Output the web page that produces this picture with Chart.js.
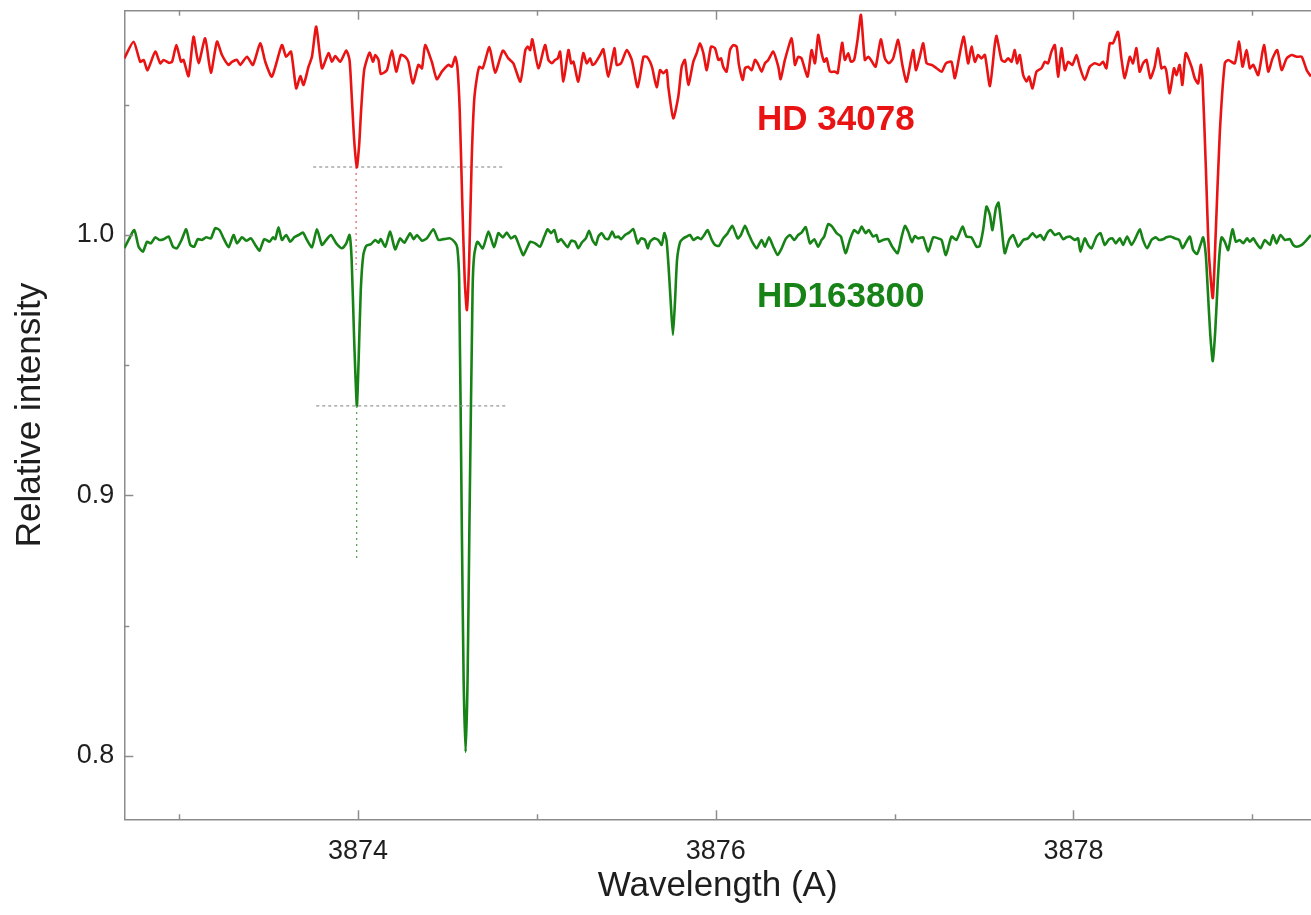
<!DOCTYPE html>
<html>
<head>
<meta charset="utf-8">
<script src="https://cdn.jsdelivr.net/npm/chart.js@4.4.1/dist/chart.umd.min.js"></script>
<style>
html,body{margin:0;padding:0;background:#ffffff;}
#wrap{width:1311px;height:915px;position:relative;}
canvas{display:block;}
</style>
</head>
<body>
<div id="wrap"><canvas id="c" width="1311" height="915"></canvas></div>
<script>
// ---------------- data ----------------
const redWave = [3872.694,3872.746,3872.783,3872.802,3872.824,3872.867,3872.895,3872.914,3872.942,3872.961,
3872.985,3873.011,3873.025,3873.053,3873.081,3873.109,3873.146,3873.178,3873.212,3873.240,
3873.277,3873.296,3873.324,3873.342,3873.380,3873.413,3873.454,3873.482,3873.519,3873.575,
3873.599,3873.626,3873.655,3873.678,3873.696,3873.724,3873.743,3873.767,3873.799,3873.836,
3873.855,3873.873,3873.901,3873.935,3873.953,3873.965,3873.979,3873.994,3874.007,3874.018,
3874.035,3874.065,3874.084,3874.097,3874.115,3874.128,3874.162,3874.190,3874.214,3874.240,
3874.264,3874.282,3874.307,3874.338,3874.358,3874.376,3874.413,3874.441,3874.469,3874.506,
3874.525,3874.544,3874.556,3874.569,3874.583,3874.597,3874.609,3874.622,3874.636,3874.650,
3874.666,3874.679,3874.698,3874.735,3874.767,3874.810,3874.841,3874.869,3874.908,3874.936,
3874.950,3874.963,3874.975,3875.009,3875.046,3875.065,3875.084,3875.102,3875.117,3875.130,
3875.149,3875.177,3875.192,3875.205,3875.232,3875.260,3875.279,3875.298,3875.311,3875.326,
3875.354,3875.372,3875.400,3875.434,3875.447,3875.471,3875.503,3875.531,3875.564,3875.596,
3875.615,3875.633,3875.646,3875.670,3875.689,3875.707,3875.726,3875.735,3875.763,3875.791,
3875.810,3875.828,3875.847,3875.875,3875.894,3875.912,3875.931,3875.950,3875.974,3875.996,
3876.015,3876.030,3876.042,3876.061,3876.080,3876.098,3876.117,3876.130,3876.151,3876.164,
3876.182,3876.201,3876.220,3876.235,3876.257,3876.275,3876.294,3876.322,3876.350,3876.363,
3876.387,3876.425,3876.443,3876.461,3876.480,3876.489,3876.514,3876.536,3876.555,3876.573,
3876.592,3876.607,3876.620,3876.639,3876.667,3876.682,3876.707,3876.722,3876.741,3876.756,
3876.774,3876.793,3876.812,3876.834,3876.853,3876.868,3876.894,3876.923,3876.946,3876.968,
3876.992,3877.020,3877.042,3877.067,3877.104,3877.119,3877.141,3877.160,3877.179,3877.207,
3877.235,3877.263,3877.287,3877.318,3877.337,3877.365,3877.387,3877.411,3877.430,3877.449,
3877.467,3877.486,3877.505,3877.533,3877.560,3877.570,3877.598,3877.616,3877.635,3877.654,
3877.672,3877.685,3877.700,3877.719,3877.738,3877.752,3877.771,3877.793,3877.821,3877.840,
3877.858,3877.877,3877.896,3877.914,3877.933,3877.952,3877.970,3877.994,3878.017,3878.035,
3878.063,3878.091,3878.119,3878.147,3878.165,3878.184,3878.203,3878.221,3878.249,3878.268,
3878.287,3878.315,3878.333,3878.352,3878.370,3878.389,3878.408,3878.430,3878.454,3878.473,
3878.492,3878.510,3878.520,3878.538,3878.562,3878.576,3878.594,3878.609,3878.628,3878.660,
3878.678,3878.697,3878.712,3878.721,3878.740,3878.757,3878.779,3878.796,3878.818,3878.846,
3878.865,3878.902,3878.926,3878.945,3878.968,3878.986,3879.005,3879.033,3879.065,3879.089,
3879.113,3879.139,3879.164,3879.192,3879.220,3879.248,3879.276,3879.304,3879.328];

const redFlux = [1.0678,1.0742,1.0665,1.0672,1.0633,1.0704,1.0659,1.0672,1.0661,1.0665,
1.0729,1.0665,1.0672,1.0610,1.0761,1.0659,1.0755,1.0623,1.0742,1.0691,
1.0653,1.0665,1.0672,1.0653,1.0684,1.0653,1.0736,1.0665,1.0608,1.0729,
1.0684,1.0704,1.0563,1.0610,1.0576,1.0646,1.0684,1.0800,1.0640,1.0698,
1.0665,1.0687,1.0665,1.0708,1.0672,1.0537,1.0365,1.0260,1.0346,1.0480,
1.0633,1.0700,1.0665,1.0691,1.0672,1.0618,1.0633,1.0708,1.0627,1.0691,
1.0684,1.0665,1.0582,1.0653,1.0640,1.0729,1.0665,1.0598,1.0627,1.0653,
1.0646,1.0684,1.0646,1.0480,1.0134,0.9827,0.9712,0.9904,1.0288,1.0518,
1.0608,1.0646,1.0640,1.0721,1.0623,1.0708,1.0678,1.0659,1.0589,1.0710,
1.0723,1.0710,1.0751,1.0640,1.0729,1.0672,1.0659,1.0672,1.0678,1.0704,
1.0589,1.0710,1.0659,1.0665,1.0589,1.0698,1.0659,1.0678,1.0653,1.0659,
1.0691,1.0713,1.0608,1.0717,1.0653,1.0659,1.0710,1.0672,1.0567,1.0684,
1.0684,1.0665,1.0640,1.0567,1.0633,1.0621,1.0633,1.0569,1.0448,1.0531,
1.0646,1.0672,1.0576,1.0665,1.0698,1.0736,1.0698,1.0633,1.0723,1.0717,
1.0672,1.0678,1.0646,1.0627,1.0710,1.0729,1.0723,1.0653,1.0595,1.0640,
1.0646,1.0633,1.0672,1.0659,1.0627,1.0659,1.0672,1.0704,1.0646,1.0598,
1.0672,1.0755,1.0653,1.0684,1.0678,1.0659,1.0608,1.0710,1.0659,1.0768,
1.0698,1.0665,1.0678,1.0627,1.0627,1.0621,1.0738,1.0672,1.0698,1.0665,
1.0672,1.0749,1.0845,1.0672,1.0684,1.0672,1.0646,1.0751,1.0678,1.0659,
1.0678,1.0749,1.0659,1.0589,1.0710,1.0633,1.0684,1.0736,1.0659,1.0653,
1.0640,1.0627,1.0659,1.0665,1.0602,1.0698,1.0761,1.0659,1.0723,1.0665,
1.0691,1.0678,1.0691,1.0572,1.0729,1.0764,1.0672,1.0665,1.0678,1.0665,
1.0710,1.0659,1.0691,1.0614,1.0589,1.0608,1.0563,1.0627,1.0640,1.0665,
1.0659,1.0704,1.0729,1.0608,1.0717,1.0633,1.0665,1.0653,1.0691,1.0646,
1.0595,1.0646,1.0659,1.0653,1.0665,1.0640,1.0736,1.0736,1.0780,1.0678,
1.0602,1.0684,1.0659,1.0717,1.0627,1.0659,1.0672,1.0602,1.0646,1.0717,
1.0640,1.0646,1.0627,1.0544,1.0640,1.0614,1.0653,1.0576,1.0698,1.0646,
1.0602,1.0582,1.0653,1.0608,1.0262,0.9931,0.9758,1.0019,1.0390,1.0659,
1.0672,1.0659,1.0742,1.0646,1.0710,1.0640,1.0653,1.0614,1.0729,1.0627,
1.0678,1.0710,1.0633,1.0678,1.0691,1.0684,1.0684,1.0633,1.0608];

const greenWave = [3872.694,3872.718,3872.750,3872.774,3872.798,3872.821,3872.843,3872.867,3872.891,3872.914,
3872.942,3872.966,3872.988,3873.016,3873.040,3873.063,3873.085,3873.104,3873.128,3873.152,
3873.178,3873.202,3873.226,3873.249,3873.277,3873.305,3873.324,3873.352,3873.376,3873.402,
3873.426,3873.450,3873.476,3873.506,3873.525,3873.538,3873.556,3873.575,3873.599,3873.622,
3873.644,3873.668,3873.693,3873.715,3873.743,3873.771,3873.799,3873.823,3873.849,3873.879,
3873.911,3873.935,3873.953,3873.965,3873.979,3873.994,3874.004,3874.016,3874.030,3874.046,
3874.073,3874.097,3874.115,3874.128,3874.153,3874.180,3874.208,3874.236,3874.259,3874.292,
3874.311,3874.330,3874.358,3874.385,3874.422,3874.450,3874.478,3874.516,3874.544,3874.556,
3874.566,3874.581,3874.591,3874.602,3874.613,3874.623,3874.641,3874.650,3874.668,3874.698,
3874.730,3874.761,3874.785,3874.810,3874.832,3874.855,3874.879,3874.907,3874.925,3874.963,
3874.991,3875.018,3875.042,3875.061,3875.080,3875.098,3875.117,3875.136,3875.154,3875.173,
3875.192,3875.214,3875.232,3875.251,3875.274,3875.292,3875.311,3875.330,3875.344,3875.363,
3875.382,3875.400,3875.422,3875.437,3875.456,3875.471,3875.493,3875.516,3875.540,3875.564,
3875.583,3875.605,3875.620,3875.633,3875.657,3875.679,3875.698,3875.713,3875.725,3875.736,
3875.748,3875.761,3875.773,3875.784,3875.801,3875.819,3875.838,3875.857,3875.875,3875.899,
3875.918,3875.936,3875.955,3875.978,3875.996,3876.018,3876.042,3876.067,3876.093,3876.123,
3876.141,3876.164,3876.182,3876.204,3876.229,3876.257,3876.275,3876.298,3876.322,3876.346,
3876.369,3876.391,3876.415,3876.439,3876.461,3876.480,3876.503,3876.527,3876.551,3876.573,
3876.592,3876.607,3876.629,3876.651,3876.676,3876.700,3876.726,3876.750,3876.774,3876.797,
3876.816,3876.838,3876.856,3876.880,3876.899,3876.912,3876.936,3876.964,3876.987,3877.017,
3877.039,3877.058,3877.076,3877.097,3877.113,3877.132,3877.160,3877.188,3877.216,3877.244,
3877.263,3877.287,3877.318,3877.346,3877.380,3877.402,3877.430,3877.458,3877.476,3877.495,
3877.514,3877.533,3877.547,3877.566,3877.581,3877.598,3877.616,3877.640,3877.663,3877.691,
3877.719,3877.746,3877.771,3877.793,3877.816,3877.834,3877.853,3877.872,3877.896,3877.920,
3877.942,3877.961,3877.980,3878.008,3878.026,3878.039,3878.063,3878.082,3878.101,3878.129,
3878.151,3878.175,3878.199,3878.218,3878.237,3878.259,3878.278,3878.300,3878.325,3878.349,
3878.371,3878.389,3878.412,3878.436,3878.460,3878.479,3878.501,3878.520,3878.543,3878.567,
3878.591,3878.610,3878.628,3878.651,3878.669,3878.691,3878.710,3878.725,3878.740,3878.751,
3878.765,3878.779,3878.793,3878.807,3878.818,3878.828,3878.846,3878.865,3878.889,3878.908,
3878.930,3878.949,3878.971,3878.986,3879.005,3879.023,3879.046,3879.070,3879.098,3879.116,
3879.135,3879.158,3879.182,3879.210,3879.228,3879.247,3879.276,3879.304,3879.328];

const greenFlux = [0.9949,0.9981,1.0019,0.9955,0.9936,0.9974,0.9968,0.9991,0.9981,0.9984,
0.9994,0.9955,0.9949,0.9984,1.0022,0.9962,0.9955,0.9984,0.9981,0.9991,
0.9987,1.0026,1.0019,0.9987,0.9953,1.0000,0.9968,0.9991,0.9978,0.9987,
0.9962,0.9940,0.9984,0.9974,0.9991,0.9984,1.0030,0.9981,1.0000,0.9974,
0.9991,1.0000,1.0009,0.9981,0.9953,1.0022,0.9962,0.9981,1.0000,0.9968,
0.9949,0.9968,1.0000,0.9904,0.9597,0.9344,0.9520,0.9789,0.9923,0.9958,
0.9965,0.9981,0.9970,0.9984,0.9955,1.0013,0.9945,0.9987,0.9970,1.0007,
0.9984,1.0000,0.9978,0.9987,1.0022,0.9981,0.9984,0.9987,0.9970,0.9949,
0.9827,0.8868,0.8292,0.8016,0.8292,0.8868,0.9789,0.9923,0.9974,0.9949,
1.0013,0.9953,1.0007,0.9991,1.0009,0.9987,0.9996,0.9949,0.9923,0.9974,
0.9968,0.9955,0.9994,1.0022,1.0007,1.0019,0.9974,0.9984,0.9968,0.9953,
0.9978,0.9974,0.9949,0.9970,0.9987,1.0016,0.9981,0.9962,0.9994,1.0007,
0.9987,0.9984,1.0013,0.9991,0.9994,0.9984,1.0000,1.0009,1.0022,0.9968,
0.9987,0.9981,0.9949,0.9974,0.9987,0.9981,0.9962,1.0007,0.9981,0.9885,
0.9750,0.9616,0.9750,0.9904,0.9973,0.9987,0.9994,1.0000,0.9981,0.9991,
0.9984,1.0000,1.0019,0.9981,0.9962,0.9958,0.9987,1.0007,1.0035,0.9987,
1.0000,1.0035,1.0007,0.9974,0.9949,0.9981,0.9955,0.9991,0.9955,0.9923,
0.9949,0.9984,1.0000,0.9981,1.0000,1.0009,1.0030,0.9968,0.9984,0.9955,
0.9981,0.9994,1.0042,1.0032,1.0007,0.9994,0.9930,0.9981,1.0019,1.0007,
1.0032,1.0007,1.0019,0.9994,1.0000,0.9974,0.9981,0.9984,0.9955,0.9930,
0.9991,1.0035,1.0013,0.9973,0.9996,0.9987,0.9991,0.9936,0.9991,0.9987,
0.9981,0.9923,0.9994,0.9981,1.0032,0.9994,0.9991,0.9955,0.9958,1.0019,
1.0109,1.0077,1.0019,1.0102,1.0124,1.0032,0.9930,0.9981,1.0000,0.9955,
0.9981,0.9987,1.0007,0.9991,1.0000,0.9981,1.0007,1.0019,1.0000,1.0007,
0.9984,0.9991,0.9994,0.9981,0.9987,0.9936,0.9987,0.9962,0.9949,0.9994,
1.0007,0.9962,0.9984,0.9987,0.9968,0.9987,0.9962,0.9994,0.9962,0.9991,
1.0022,0.9981,0.9949,0.9981,0.9991,0.9981,0.9984,0.9991,0.9994,0.9987,
0.9981,0.9949,0.9970,0.9994,0.9942,0.9927,0.9962,0.9991,0.9923,0.9789,
0.9616,0.9516,0.9635,0.9827,0.9942,0.9991,0.9974,0.9942,1.0022,0.9974,
0.9981,0.9968,0.9987,0.9974,0.9987,0.9968,0.9949,0.9981,0.9962,1.0000,
0.9968,1.0000,0.9981,0.9984,0.9962,0.9955,0.9962,0.9981,1.0000];

// reference (guide) lines at the 3874 line minima
const guideRedWave   = [3873.750, 3874.810];
const guideRedLevel  = [1.0261, 1.0261];
const guideGreenWave = [3873.767, 3874.832];
const guideGreenLevel= [0.9344, 0.9344];
const dropRedWave    = [3873.990, 3873.990];
const dropRedLevel   = [1.0261, 0.9866];
const dropGreenWave  = [3873.993, 3873.993];
const dropGreenLevel = [0.9344, 0.8760];

// axis ticks
const xTickValues = [3873, 3874, 3875, 3876, 3877, 3878, 3879];
const xTickLabels = ['', '3874', '', '3876', '', '3878', ''];
const yTickValues = [0.80, 0.85, 0.90, 0.95, 1.00, 1.05];
const yTickLabels = ['0.8', '', '0.9', '', '1.0', ''];

// series names
const seriesNames = ['HD 34078', 'HD163800'];
const nameWave  = [3876.231, 3876.231];
const nameLevel = [1.0441, 0.9762];

// ---------------- chart ----------------
const RED = '#ea1313';
const GREEN = '#178317';
const AXIS = '#8c8c8c';
const FONT = '"Liberation Sans", Arial, sans-serif';

const pts = (xs, ys) => xs.map((x, i) => ({x: x, y: ys[i]}));

const tickMarks = {
  id: 'tickMarks',
  afterDatasetsDraw(chart) {
    const {ctx, chartArea: a, scales} = chart;
    const xs = scales.x, ys = scales.y;
    ctx.save();
    ctx.strokeStyle = AXIS;
    ctx.lineWidth = 1.5;
    const seg = (x1, y1, x2, y2) => { ctx.beginPath(); ctx.moveTo(x1, y1); ctx.lineTo(x2, y2); ctx.stroke(); };
    seg(a.left, a.top, a.right + 2, a.top);
    xTickValues.forEach((v, i) => {
      const px = Math.round(xs.getPixelForValue(v)) + 0.5;
      const len = xTickLabels[i] ? 9 : 5;
      seg(px, a.bottom, px, a.bottom - len);
      seg(px, a.top, px, a.top + len);
    });
    yTickValues.forEach((v, i) => {
      const py = Math.round(ys.getPixelForValue(v)) + 0.5;
      const len = yTickLabels[i] ? 9 : 5;
      seg(a.left, py, a.left + len, py);
    });
    ctx.restore();
  },
  afterDraw(chart) {
    const {ctx, scales} = chart;
    ctx.save();
    ctx.font = 'bold 35px ' + FONT;
    ctx.textAlign = 'left';
    ctx.textBaseline = 'middle';
    const cols = [RED, GREEN];
    seriesNames.forEach((n, i) => {
      ctx.fillStyle = cols[i];
      ctx.fillText(n, scales.x.getPixelForValue(nameWave[i]), scales.y.getPixelForValue(nameLevel[i]));
    });
    ctx.restore();
  }
};

new Chart(document.getElementById('c'), {
  type: 'line',
  data: {
    datasets: [
      {label: seriesNames[0], data: pts(redWave, redFlux), borderColor: RED, borderWidth: 2.6, pointRadius: 0, tension: 0.2, fill: false},
      {label: 'guideRed', data: pts(guideRedWave, guideRedLevel), borderColor: '#9a9a9a', borderWidth: 1.3, borderDash: [3, 3], pointRadius: 0},
      {label: 'dropRed', data: pts(dropRedWave, dropRedLevel), borderColor: '#e06a6a', borderWidth: 1.3, borderDash: [2, 4], pointRadius: 0},
      {label: 'guideGreen', data: pts(guideGreenWave, guideGreenLevel), borderColor: '#9a9a9a', borderWidth: 1.3, borderDash: [3, 3], pointRadius: 0},
      {label: 'dropGreen', data: pts(dropGreenWave, dropGreenLevel), borderColor: '#5aa55a', borderWidth: 1.3, borderDash: [2, 4], pointRadius: 0},
      {label: seriesNames[1], data: pts(greenWave, greenFlux), borderColor: GREEN, borderWidth: 2.6, pointRadius: 0, tension: 0.2, fill: false}
    ]
  },
  options: {
    responsive: false,
    animation: false,
    devicePixelRatio: 1,
    layout: {padding: {top: 10.7, right: 0, left: 0, bottom: 0}},
    plugins: {legend: {display: false}, tooltip: {enabled: false}},
    scales: {
      x: {
        type: 'linear',
        min: 3872.694,
        max: 3879.328,
        afterFit: s => { s.height = 95.7; s.paddingLeft = 0; s.paddingRight = 0; },
        afterBuildTicks: s => { s.ticks = xTickValues.map(v => ({value: v})); },
        grid: {display: true, drawOnChartArea: false, drawTicks: false},
        border: {display: true, color: AXIS, width: 1.5},
        ticks: {
          autoSkip: false, maxRotation: 0, padding: 16,
          color: '#1e1e1e', font: {family: FONT, size: 27},
          callback: (v) => { const i = xTickValues.indexOf(Math.round(v)); return i >= 0 ? xTickLabels[i] : ''; }
        },
        title: {display: true, text: 'Wavelength (A)', color: '#1e1e1e', font: {family: FONT, size: 35}, padding: {top: 0, bottom: 8}}
      },
      y: {
        type: 'linear',
        min: 0.7757,
        max: 1.0861,
        afterFit: s => { s.width = 124.3; s.paddingTop = 0; s.paddingBottom = 0; },
        afterBuildTicks: s => { s.ticks = yTickValues.map(v => ({value: v})); },
        grid: {display: true, drawOnChartArea: false, drawTicks: false},
        border: {display: true, color: AXIS, width: 1.5},
        ticks: {
          autoSkip: false, padding: 10,
          color: '#1e1e1e', font: {family: FONT, size: 27},
          callback: (v) => { const i = yTickValues.findIndex(t => Math.abs(t - v) < 1e-6); return i >= 0 ? yTickLabels[i] : ''; }
        },
        title: {display: true, text: 'Relative intensity', color: '#1e1e1e', font: {family: FONT, size: 35}, padding: {top: 9, bottom: 0}}
      }
    }
  },
  plugins: [tickMarks]
});
</script>
</body>
</html>
